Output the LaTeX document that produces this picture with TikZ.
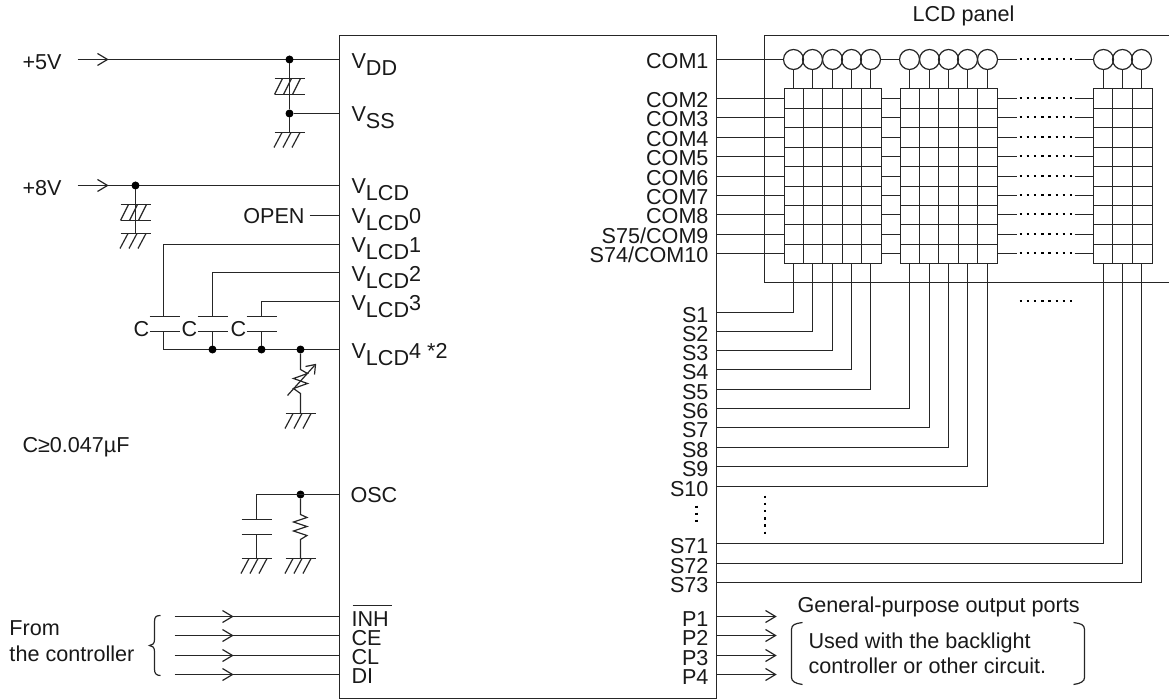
\documentclass[tikz,border=0pt]{standalone}
\usepackage{fontspec}
\setmainfont{Liberation Sans}
\newcommand{\lowtxt}[1]{\raisebox{-7.3pt}{#1}}
\tikzset{
  x=1pt,y=-1pt,
  every node/.style={inner sep=0pt,outer sep=0pt},
  wire/.style={line width=1.55pt,draw=black!85},
  thin wire/.style={line width=1.2pt,draw=black!85},
  dotrun/.style={line width=2pt,draw=black,dash pattern=on 2.4pt off 4.8pt},
  lab/.style={font=\fontsize{21.6}{24}\selectfont,text=black!90},
  pinlab/.style={lab,anchor=base east},
  chiplab/.style={lab,anchor=base west},
  junction/.style={circle,fill=black,minimum size=8pt},
  head/.pic={\draw[thin wire,line join=miter] (-10,-6) -- (0,0) -- (-10,6);},
  gndmark/.pic={
    \draw[wire] (-15,0) -- (15,0);
    \foreach \d in {-9,0,9}{\draw[thin wire] (\d-6.5,15) -- (\d+1.5,0);}
  },
  hatchcap/.pic={
    \draw[wire] (-15,0) -- (15,0);
    \draw[wire] (-15,16) -- (15,16);
    \foreach \d in {-9,0,9}{\draw[thin wire] (\d-6,16) -- (\d+2,0);}
  },
  plates/.pic={
    \draw[wire] (-15,0) -- (15,0);
    \draw[wire] (-15,15) -- (15,15);
  },
}
\begin{document}
\begin{tikzpicture}
\useasboundingbox (-0.5,-0.5) rectangle (1168.5,699.5);
% chip
\node[draw,line width=1.55pt,draw=black!85,anchor=north west,minimum width=377pt,minimum height=663pt] (chip) at (339,35) {};
% left power
\node[lab,anchor=base west] (p5) at (22,69) {+5V};
\node[lab,anchor=base west] (p8) at (22,195) {+8V};
\coordinate (in5) at (77,59); \coordinate (in8) at (77,185);
\foreach \n/\y in {vdd/59,vss/113,vlcd/185,vz/215,va/244,vb/272,vc/301,vd/349,osc/494,inh/616,ce/635,cl/655,di/674}{
  \coordinate (L\n) at (339,\y);
}
\draw[wire] (in5) -- (Lvdd);
\draw[wire] (in8) -- (Lvlcd);
\pic at (107,59) {head};
\pic at (107,185) {head};
\node[junction] (j5) at (289,59) {};
\node[junction] (jss) at (289,113) {};
\node[junction] (j8) at (135,185) {};
\draw[wire] (j5) -- (jss);
\draw[wire] (jss) -- (Lvss);
\coordinate (g5) at (289,132);
\draw[wire] (jss) -- (g5);
\pic at (289,78) {hatchcap};
\pic at (g5) {gndmark};
\coordinate (g8) at (135,233);
\draw[wire] (j8) -- (g8);
\pic at (135,204) {hatchcap};
\pic at (g8) {gndmark};
% V labels
\node[chiplab] (tvdd) at (351,68) {V\lowtxt{DD}};
\node[chiplab] (tvss) at (351,121) {V\lowtxt{SS}};
\node[chiplab] (tvlcd) at (351,193) {V\lowtxt{LCD}};
\node[chiplab] (tvz) at (351,223) {V\lowtxt{LCD}0};
\node[chiplab] (tva) at (351,252) {V\lowtxt{LCD}1};
\node[chiplab] (tvb) at (351,281) {V\lowtxt{LCD}2};
\node[chiplab] (tvc) at (351,310) {V\lowtxt{LCD}3};
\node[chiplab] (tvd) at (351,358) {V\lowtxt{LCD}4 *2};
\node[chiplab] (tosc) at (350,502) {OSC};
\node[chiplab] (tinh) at (351,626) {INH};
\node[chiplab] (tce) at (351,645) {CE};
\node[chiplab] (tcl) at (351,664) {CL};
\node[chiplab] (tdi) at (351,683) {DI};
\draw[thin wire] (352,605) -- (391,605);
% OPEN
\node[lab,anchor=base east] (open) at (304,223) {OPEN};
\draw[wire] (309,215) -- (Lvz);
% C bank
\coordinate (ca) at (163,316); \coordinate (cb) at (212,316); \coordinate (cc) at (261,316);
\coordinate (ra) at (163,349);
\draw[wire] (Lva) -| (ca);
\draw[wire] (Lvb) -| (cb);
\draw[wire] (Lvc) -| (cc);
\draw[wire] (163,331) -- (ra) -- (Lvd);
\foreach \x in {164,212,261}{\pic at (\x,316) {plates};}
\node[junction] (jb) at (212,349) {};
\node[junction] (jc) at (261,349) {};
\node[junction] (jr) at (300,349) {};
\draw[wire] (212,331) -- (jb);
\draw[wire] (261,331) -- (jc);
\node[lab,anchor=center] (c1) at (141,329) {C};
\node[lab,anchor=center] (c2) at (189,329) {C};
\node[lab,anchor=center] (c3) at (238,329) {C};
% variable resistor
\coordinate (g4) at (300,413);
\draw[thin wire,line join=miter] (jr) -- (300,369) -- (307,373) -- (293,378) -- (307,383) -- (293,388) -- (300,393) -- (g4);
\draw[thin wire] (287,395) -- (314,365);
\draw[thin wire] (305,366) -- (315,364) -- (314,374);
\pic at (g4) {gndmark};
\node[lab,anchor=base west] (cval) at (22,452) {C≥0.047µF};
% OSC
\node[junction] (jo) at (300,494) {};
\coordinate (ocap) at (256,519);
\draw[wire] (Losc) -- (256,494) -- (ocap);
\pic at (256,519) {plates};
\coordinate (go1) at (256,558); \coordinate (go2) at (300,558);
\draw[wire] (256,534) -- (go1);
\pic at (go1) {gndmark};
\pic at (go2) {gndmark};
\draw[thin wire,line join=miter] (jo) -- (300,514) -- (306.5,517) -- (293,521.5) -- (306.5,526) -- (293,530.5) -- (306.5,535) -- (300,539) -- (go2);
% controller
\node[lab,anchor=base west] (from) at (9,635) {From};
\node[lab,anchor=base west] (ctrl) at (9,661) {the controller};
\draw[thin wire] (160,615) .. controls (156,615) and (154,616) .. (154,621) -- (154,639) .. controls (154,643) and (152,645) .. (149,645)
  .. controls (152,645) and (154,647) .. (154,651) -- (154,669) .. controls (154,673) and (156,675) .. (160,675);
\foreach \n/\y in {inh/616,ce/635,cl/655,di/674}{
  \coordinate (s\n) at (174,\y);
  \draw[wire] (s\n) -- (L\n);
  \pic at (232,\y) {head};
}
% COM / S labels on the chip
\foreach \n/\t/\y in {c1/COM1/59,c2/COM2/98,c3/COM3/117,c4/COM4/137,c5/COM5/156,c6/COM6/176,c7/COM7/195,c8/COM8/214,c9/{S75/COM9}/234,c10/{S74/COM10}/253}{
  \node[pinlab] (t\n) at (708,\y+9.5) {\t};
  \coordinate (R\n) at (716,\y);
}
\foreach \n/\y in {S1/312,S2/331,S3/350,S4/369,S5/389,S6/408,S7/427,S8/447,S9/466,S10/486,S71/543,S72/563,S73/582}{
  \node[pinlab] (t\n) at (708,\y+10) {\n};
  \coordinate (R\n) at (716,\y);
}
\foreach \n/\y in {P1/616,P2/635,P3/655,P4/674}{
  \node[pinlab] (t\n) at (708,\y+10) {\n};
  \coordinate (R\n) at (716,\y);
  \coordinate (E\n) at (775,\y);
  \draw[wire] (R\n) -- (E\n);
  \pic at (E\n) {head};
}
\node[lab,anchor=base west] (lcdp) at (912,21) {LCD panel};
\draw[wire] (1169,35) -- (764,35) -- (764,282) -- (1169,282);
% matrix blocks
\foreach \b/\xl/\xr in {A/784/881,B/900/997,C/1093/1152}{
  \node[draw,line width=1.55pt,draw=black!85,anchor=north west,minimum width=\xr pt-\xl pt,minimum height=175pt] (block\b) at (\xl,88) {};
  \foreach \yy in {108,127,147,166,186,205,224,244}{
    \draw[wire] (\xl,\yy) -- (\xr,\yy);
  }
}
\foreach \xx in {803,822,842,861,919,938,958,977,1112,1132}{
  \draw[wire] (\xx,88) -- (\xx,263);
}
\foreach \b/\k/\xc in {A/1/793,A/2/812,A/3/832,A/4/851,A/5/870,B/1/909,B/2/929,B/3/948,B/4/967,B/5/987,C/1/1103,C/2/1122,C/3/1141}{
  \node[draw,circle,line width=1.2pt,draw=black!85,minimum size=20pt] (disc\b\k) at (\xc,59) {};
  \coordinate (top\b\k) at (\xc,88);
  \coordinate (bot\b\k) at (\xc,263);
  \draw[wire] (disc\b\k) -- (top\b\k);
}
% COM wires
\draw[wire] (Rc1) -- (discA1);
\draw[wire] (discA5) -- (discB1);
\draw[wire] (discB5) -- (1016,59);
\draw[wire] (1074,59) -- (discC1);
\draw[dotrun] (1019,59) -- (1073,59);
\foreach \n/\y in {c2/98,c3/117,c4/137,c5/156,c6/176,c7/195,c8/214,c9/234,c10/253}{
  \draw[wire] (R\n) -- (784,\y);
  \draw[wire] (881,\y) -- (900,\y);
  \draw[wire] (997,\y) -- (1016,\y);
  \draw[wire] (1074,\y) -- (1093,\y);
  \draw[dotrun] (1019,\y) -- (1073,\y);
}
% segment wires
\foreach \n/\t in {S1/A1,S2/A2,S3/A3,S4/A4,S5/A5,S6/B1,S7/B2,S8/B3,S9/B4,S10/B5,S71/C1,S72/C2,S73/C3}{
  \draw[wire] (R\n) -| (bot\t);
}
\draw[dotrun] (1019,301) -- (1075,301);
\draw[dotrun] (764,495) -- (764,534);
\draw[line width=2.4pt,dash pattern=on 2.5pt off 4.6pt] (696,505) -- (696,521);
% ports text
\node[lab,anchor=base west] (gp) at (797,612) {General-purpose output ports};
\node[lab,anchor=base west] (us1) at (808,648) {Used with the backlight};
\node[lab,anchor=base west] (us2) at (808,673) {controller or other circuit.};
\draw[thin wire] (802,622) .. controls (795,623) and (791,624) .. (791,629) -- (791,677) .. controls (791,681) and (795,683) .. (802,684);
\draw[thin wire] (1073,622) .. controls (1080,623) and (1084,624) .. (1084,629) -- (1084,677) .. controls (1084,681) and (1080,683) .. (1073,684);
\end{tikzpicture}
\end{document}
